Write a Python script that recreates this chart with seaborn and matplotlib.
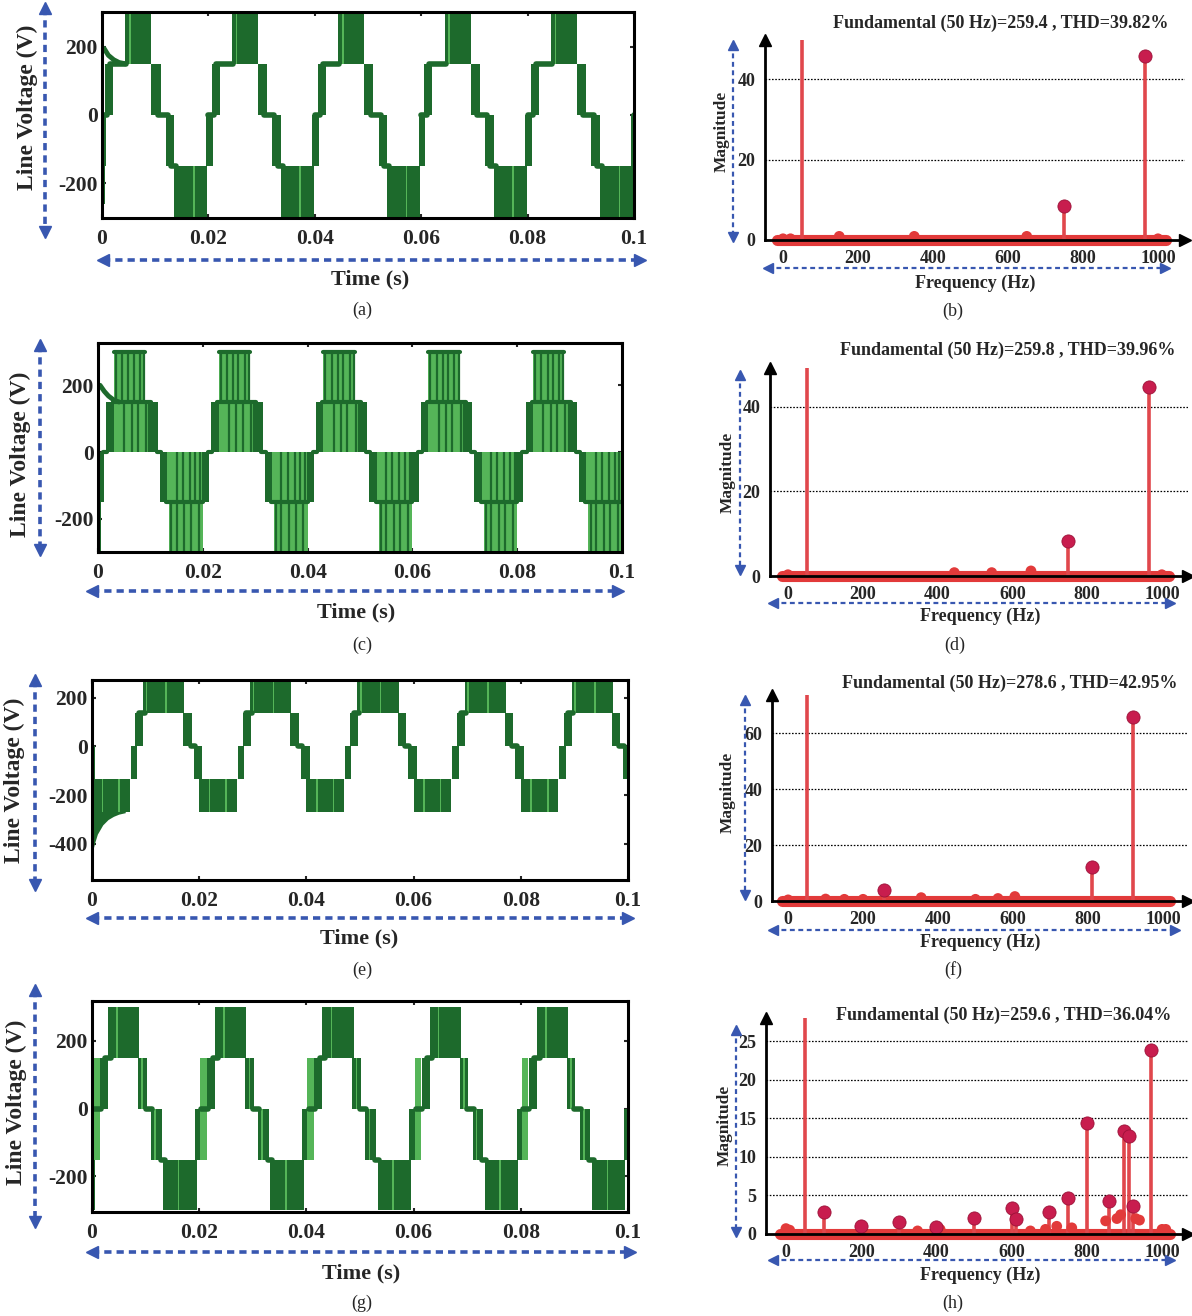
import numpy as np
import pandas as pd
import matplotlib
matplotlib.use("Agg")
import matplotlib.pyplot as plt
import seaborn as sns
from matplotlib.lines import Line2D

sns.set_style("white")
plt.rcParams["font.family"] = ["Liberation Serif", "DejaVu Serif"]
plt.rcParams["font.weight"] = "bold"

# ---------------- data ----------------
PERIOD = 0.02
TIME_TICKS = [0, 0.02, 0.04, 0.06, 0.08, 0.1]
TIME_TICK_LABELS = ["0", "0.02", "0.04", "0.06", "0.08", "0.1"]

# (a) one period of the line voltage: dark switching bands (t0, t1, low, high)
A_DARK_T0 = [0.0006, 0.0044, 0.0093, 0.0120, 0.0136, 0.0195]
A_DARK_T1 = [0.0021, 0.0093, 0.0110, 0.0136, 0.0198, 0.0208]
A_DARK_LO = [0, 150, 0, -150, -300, -150]
A_DARK_HI = [150, 300, 150, 0, -150, 0]
A_LIGHT_T0 = [0.0051, 0.0171]
A_LIGHT_T1 = [0.0054, 0.0174]
A_LIGHT_LO = [150, -300]
A_LIGHT_HI = [300, -150]
A_LEVEL_T0 = [0.0015, 0.0105, 0.0130, 0.0200]
A_LEVEL_T1 = [0.0046, 0.0124, 0.0140, 0.0210]
A_LEVEL_V = [150, 0, -150, 0]
A_START_T0, A_START_T1, A_START_LO, A_START_HI = [0.0], [0.0006], [-260], [0]
A_HUMP_T = [0.0004, 0.0012, 0.0022, 0.0032, 0.0044]
A_HUMP_V = [195, 175, 162, 154, 150]

# (c)
C_DARK_T0 = [0.0016, 0.0100, 0.0118, 0.0198]
C_DARK_T1 = [0.0030, 0.0114, 0.0132, 0.0212]
C_DARK_LO = [0, 0, -150, -150]
C_DARK_HI = [150, 150, 0, 0]
C_LIGHT_T0 = [0.0030, 0.0030, 0.0132, 0.0136]
C_LIGHT_T1 = [0.0100, 0.0090, 0.0198, 0.0200]
C_LIGHT_LO = [0, 150, -150, -300]
C_LIGHT_HI = [150, 300, 0, -150]
C_STRIPE_T = [0.0034, 0.0046, 0.0058, 0.0068, 0.0080, 0.0088,
              0.0050, 0.0064, 0.0076, 0.0092, 0.0098,
              0.0140, 0.0150, 0.0165, 0.0177, 0.0192,
              0.0150, 0.0162, 0.0175, 0.0186, 0.0195]
C_STRIPE_LO = [150] * 6 + [0] * 5 + [-300] * 5 + [-150] * 5
C_STRIPE_HI = [300] * 6 + [150] * 5 + [-150] * 5 + [0] * 5
C_LEVEL_T0 = [0.0028, 0.0030, 0.0112, 0.0130, 0.0210]
C_LEVEL_T1 = [0.0102, 0.0090, 0.0120, 0.0200, 0.0218]
C_LEVEL_V = [150, 300, 0, -150, 0]
C_START_T0, C_START_T1, C_START_LO, C_START_HI = [0.0], [0.0005], [-300], [0]
C_HUMP_T = [0.0004, 0.0012, 0.0020, 0.0030, 0.0040]
C_HUMP_V = [200, 182, 168, 156, 150]

# (e)
E_DARK_T0 = [0.0072, 0.0081, 0.0095, 0.0170, 0.0190, 0.0200]
E_DARK_T1 = [0.0084, 0.0096, 0.0172, 0.0186, 0.0206, 0.0270]
E_DARK_LO = [-135, 0, 135, 0, -135, -270]
E_DARK_HI = [0, 135, 270, 135, 0, -135]
E_LIGHT_T0 = [0.0100, 0.0137, 0.0218, 0.0249]
E_LIGHT_T1 = [0.0103, 0.0140, 0.0221, 0.0252]
E_LIGHT_LO = [135, 135, -270, -270]
E_LIGHT_HI = [270, 270, -135, -135]
E_LEVEL_T0 = [0.0184, 0.0088]
E_LEVEL_T1 = [0.0192, 0.0098]
E_LEVEL_V = [0, 135]
E_TR_T = [0.0, 0.0005, 0.0010, 0.0020, 0.0030, 0.0040, 0.0050, 0.0062]
E_TR_LO = [-440, -395, -360, -322, -300, -287, -278, -272]
E_TR_HI = -135
E_START_T0, E_START_T1, E_START_LO, E_START_HI = [0.0], [0.0006], [-135], [0]

# (g)
G_DARK_T0 = [0.0015, 0.0030, 0.0086, 0.0110, 0.0133, 0.0192]
G_DARK_T1 = [0.0030, 0.0088, 0.0102, 0.0130, 0.0195, 0.0204]
G_DARK_LO = [0, 150, 0, -150, -300, -150]
G_DARK_HI = [150, 300, 150, 0, -150, 0]
G_LIGHT_T0 = [0.0202, 0.0045, 0.0092, 0.0116, 0.0160]
G_LIGHT_T1 = [0.0214, 0.0048, 0.0095, 0.0119, 0.0163]
G_LIGHT_LO = [-150, 150, 0, -150, -300]
G_LIGHT_HI = [150, 300, 150, 0, -150]
G_LEVEL_T0 = [0.0025, 0.0100, 0.0128, 0.0204]
G_LEVEL_T1 = [0.0035, 0.0112, 0.0136, 0.0216]
G_LEVEL_V = [150, 0, -150, 0]
G_START_T0, G_START_T1, G_START_LO, G_START_HI = [0.0], [0.0005], [-300], [0]

# spectra
FREQ_TICKS = [0, 200, 400, 600, 800, 1000]
BASE_FREQ = [-15, 1020]
FUND_FREQ = 50

B_TITLE = "Fundamental (50 Hz)=259.4 , THD=39.82%"
B_FUND = 259.4
B_FREQ = [750, 965]
B_MAG = [8.4, 45.7]
B_SMALL_FREQ = [0, 20, 150, 350, 650, 1000]
B_SMALL_MAG = [0.3, 0.3, 0.9, 0.9, 0.9, 0.3]
B_YTICKS = [0, 20, 40]

D_TITLE = "Fundamental (50 Hz)=259.8 , THD=39.96%"
D_FUND = 259.8
D_FREQ = [750, 965]
D_MAG = [8.2, 44.8]
D_SMALL_FREQ = [0, 445, 545, 650, 1000]
D_SMALL_MAG = [0.3, 0.8, 0.8, 1.2, 0.3]
D_YTICKS = [0, 20, 40]

F_TITLE = "Fundamental (50 Hz)=278.6 , THD=42.95%"
F_FUND = 278.6
F_FREQ = [255, 810, 920]
F_MAG = [3.8, 12.0, 65.7]
F_SMALL_FREQ = [0, 100, 150, 200, 355, 500, 560, 605]
F_SMALL_MAG = [0.4, 0.7, 0.6, 0.6, 1.2, 0.6, 0.9, 1.6]
F_YTICKS = [0, 20, 40, 60]

H_TITLE = "Fundamental (50 Hz)=259.6 , THD=36.04%"
H_FUND = 259.6
H_FREQ = [100, 200, 300, 400, 500, 600, 612, 700, 750, 800, 860, 900, 912, 922, 970]
H_MAG = [2.8, 1.1, 1.5, 0.9, 2.1, 3.4, 1.9, 2.9, 4.7, 14.4, 4.3, 13.4, 12.7, 3.6, 23.9]
H_SMALL_FREQ = [0, 10, 350, 410, 650, 690, 720, 760, 850, 880, 890, 930, 940, 1000, 1010]
H_SMALL_MAG = [0.7, 0.5, 0.4, 0.6, 0.4, 0.6, 1.0, 0.8, 1.7, 2.0, 2.5, 2.0, 1.8, 0.6, 0.6]
H_YTICKS = [0, 5, 10, 15, 20, 25]

# ---------------- style ----------------
W, H = 1192, 1316
DARK = "#1d6a2c"
LIGHT = "#55b558"
BLUE = "#3857b0"
STEM = "#e0474c"
MARK = "#c81d4e"
BASE_RED = "#e23a3a"

fig = plt.figure(figsize=(W / 100, H / 100), dpi=100)
fig.patch.set_facecolor("white")


def rect(l, r, t, b):
    return [l / W, 1 - b / H, (r - l) / W, (b - t) / H]


def fxy(x, y):
    return x / W, 1 - y / H


def ftext(x, y, s, size, weight="bold", rot=0):
    fx, fy = fxy(x, y)
    fig.text(fx, fy, s, ha="center", va="center", fontsize=size,
             fontweight=weight, rotation=rot)


def blue_arrow(x0, y0, x1, y1, lw=2.6, dash=(2.0, 1.4), ms=9):
    (a, b), (c, d) = fxy(x0, y0), fxy(x1, y1)
    fig.add_artist(Line2D([a, c], [b, d], transform=fig.transFigure,
                          color=BLUE, lw=lw, linestyle=(0, dash)))
    if x0 == x1:
        m0, m1 = "^", "v"
    else:
        m0, m1 = "<", ">"
    fig.add_artist(Line2D([a], [b], transform=fig.transFigure, marker=m0,
                          ms=ms, color=BLUE, lw=0))
    fig.add_artist(Line2D([c], [d], transform=fig.transFigure, marker=m1,
                          ms=ms, color=BLUE, lw=0))


def fill_blocks(ax, t0s, t1s, los, his, color, offsets, z):
    for off in offsets:
        for a, b, lo, hi in zip(t0s, t1s, los, his):
            ax.fill_between([a + off, b + off], [lo, lo], [hi, hi],
                            color=color, lw=0, zorder=z)


def level_lines(ax, t0s, t1s, vs, offsets, lw=4.0):
    rows = []
    seg = 0
    for off in offsets:
        for a, b, v in zip(t0s, t1s, vs):
            rows.append((a + off, v, seg))
            rows.append((b + off, v, seg))
            seg += 1
    df = pd.DataFrame(rows, columns=["t", "v", "seg"])
    sns.lineplot(data=df, x="t", y="v", units="seg", estimator=None,
                 sort=False, color=DARK, lw=lw, ax=ax, legend=False, zorder=3)


def wave_axes(box, ylim, yticks, ylabels):
    ax = fig.add_axes(rect(*box))
    ax.set_xlim(0, 0.1)
    ax.set_ylim(*ylim)
    ax.set_xticks(TIME_TICKS)
    ax.set_xticklabels(TIME_TICK_LABELS)
    ax.set_yticks(yticks)
    ax.set_yticklabels(ylabels)
    ax.tick_params(axis="both", labelsize=15.5, direction="in", length=3,
                   width=1.5, top=True, right=True, left=True, bottom=True)
    ax.tick_params(axis="x", pad=8)
    ax.tick_params(axis="y", pad=3)
    for s in ax.spines.values():
        s.set_linewidth(2.2)
        s.set_color("black")
        s.set_zorder(6)
    return ax


OFFS = [k * PERIOD for k in range(-1, 6)]

# ---- (a)
ax = wave_axes((102, 634, 12, 218), (-302, 302), [-200, 0, 200], ["-200", "0", "200"])
fill_blocks(ax, A_DARK_T0, A_DARK_T1, A_DARK_LO, A_DARK_HI, DARK, OFFS, 2)
fill_blocks(ax, A_LIGHT_T0, A_LIGHT_T1, A_LIGHT_LO, A_LIGHT_HI, LIGHT, OFFS, 3)
fill_blocks(ax, A_START_T0, A_START_T1, A_START_LO, A_START_HI, DARK, [0], 2)
level_lines(ax, A_LEVEL_T0, A_LEVEL_T1, A_LEVEL_V, OFFS)
sns.lineplot(x=A_HUMP_T, y=A_HUMP_V, color=DARK, lw=3.5, ax=ax, zorder=3)
ax.set_xlabel(""); ax.set_ylabel("")

# ---- (c)
ax = wave_axes((98, 622, 343, 552), (-300, 327), [-200, 0, 200], ["-200", "0", "200"])
fill_blocks(ax, C_LIGHT_T0, C_LIGHT_T1, C_LIGHT_LO, C_LIGHT_HI, LIGHT, OFFS, 1)
fill_blocks(ax, C_DARK_T0, C_DARK_T1, C_DARK_LO, C_DARK_HI, DARK, OFFS, 2)
fill_blocks(ax, C_START_T0, C_START_T1, C_START_LO, C_START_HI, DARK, [0], 2)
for off in OFFS:
    ax.vlines(np.array(C_STRIPE_T) + off, C_STRIPE_LO, C_STRIPE_HI,
              color=DARK, lw=1.6, zorder=3)
level_lines(ax, C_LEVEL_T0, C_LEVEL_T1, C_LEVEL_V, OFFS, lw=3.0)
sns.lineplot(x=C_HUMP_T, y=C_HUMP_V, color=DARK, lw=3.5, ax=ax, zorder=3)
ax.set_xlabel(""); ax.set_ylabel("")

# ---- (e)
ax = wave_axes((92, 628, 680, 880), (-548, 272), [-400, -200, 0, 200],
               ["-400", "-200", "0", "200"])
fill_blocks(ax, E_DARK_T0, E_DARK_T1, E_DARK_LO, E_DARK_HI, DARK, OFFS, 2)
fill_blocks(ax, E_LIGHT_T0, E_LIGHT_T1, E_LIGHT_LO, E_LIGHT_HI, LIGHT, OFFS, 3)
ax.fill_between(E_TR_T, E_TR_LO, E_TR_HI, color=DARK, lw=0, zorder=2)
fill_blocks(ax, E_START_T0, E_START_T1, E_START_LO, E_START_HI, DARK, [0], 2)
level_lines(ax, E_LEVEL_T0, E_LEVEL_T1, E_LEVEL_V, OFFS)
ax.set_xlabel(""); ax.set_ylabel("")

# ---- (g)
ax = wave_axes((92, 628, 1001, 1212), (-305, 318), [-200, 0, 200], ["-200", "0", "200"])
fill_blocks(ax, G_DARK_T0, G_DARK_T1, G_DARK_LO, G_DARK_HI, DARK, OFFS, 2)
fill_blocks(ax, G_LIGHT_T0, G_LIGHT_T1, G_LIGHT_LO, G_LIGHT_HI, LIGHT, OFFS, 3)
fill_blocks(ax, G_START_T0, G_START_T1, G_START_LO, G_START_HI, DARK, [0], 2)
level_lines(ax, G_LEVEL_T0, G_LEVEL_T1, G_LEVEL_V, OFFS)
ax.set_xlabel(""); ax.set_ylabel("")


# ---------------- spectra ----------------
def spectrum(box, xlim, ytop, yticks, fund, freqs, mags, sfreq, smag):
    ax = fig.add_axes(rect(*box))
    ax.set_xlim(*xlim)
    ax.set_ylim(0, ytop)
    for y in yticks[1:]:
        ax.axhline(y, color="black", lw=0.9, ls=(0, (1.3, 1.3)), zorder=1)
    sns.lineplot(x=BASE_FREQ, y=[0, 0], color=BASE_RED, lw=8, ax=ax, zorder=2)
    ax.lines[-1].set_clip_on(False)
    ax.lines[-1].set_solid_capstyle("round")
    ax.vlines([FUND_FREQ] + list(freqs), 0, [fund] + list(mags),
              color=STEM, lw=2.6, zorder=3)
    sns.scatterplot(x=sfreq, y=smag, color=BASE_RED, s=60, edgecolor="none",
                    ax=ax, zorder=4, clip_on=False)
    sns.scatterplot(x=freqs, y=mags, color=MARK, s=90, edgecolor="#9c1238",
                    linewidth=0.6, ax=ax, zorder=5, clip_on=False)
    ax.set_xticks(FREQ_TICKS)
    ax.set_xticklabels([str(v) for v in FREQ_TICKS])
    ax.set_yticks(yticks)
    ax.set_yticklabels([str(v) for v in yticks])
    ax.tick_params(axis="both", length=0, labelsize=13)
    ax.tick_params(axis="x", pad=7)
    ax.tick_params(axis="y", pad=7)
    for side in ("top", "right"):
        ax.spines[side].set_visible(False)
    for side in ("left", "bottom"):
        ax.spines[side].set_linewidth(2.0)
        ax.spines[side].set_color("black")
        ax.spines[side].set_zorder(6)
    ax.plot([1], [0], marker=">", ms=8, color="black", transform=ax.transAxes,
            clip_on=False, zorder=7)
    ax.plot([0], [1], marker="^", ms=8, color="black", transform=ax.transAxes,
            clip_on=False, zorder=7)
    ax.set_xlabel("")
    ax.set_ylabel("")
    return ax


spectrum((765, 1185, 40, 240), (-48, 1072), 49.7, B_YTICKS, B_FUND, B_FREQ, B_MAG,
         B_SMALL_FREQ, B_SMALL_MAG)
spectrum((770, 1188, 368, 576), (-48, 1070), 49.2, D_YTICKS, D_FUND, D_FREQ, D_MAG,
         D_SMALL_FREQ, D_SMALL_MAG)
spectrum((772, 1188, 695, 901), (-43, 1067), 73.6, F_YTICKS, F_FUND, F_FREQ, F_MAG,
         F_SMALL_FREQ, F_SMALL_MAG)
spectrum((766, 1188, 1018, 1234), (-53, 1069), 28.0, H_YTICKS, H_FUND, H_FREQ, H_MAG,
         H_SMALL_FREQ, H_SMALL_MAG)

# ---------------- texts ----------------
for (x, y) in [(27, 107), (20, 454), (14, 780), (16, 1102)]:
    ftext(x, y, "Line Voltage (V)", 17, rot=90)
for (x, y) in [(370, 279), (356, 612), (359, 938), (361, 1273)]:
    ftext(x, y, "Time (s)", 16)
for (x, y, s) in [(362, 310, "(a)"), (362, 645, "(c)"), (362, 970, "(e)"), (362, 1303, "(g)"),
                  (953, 311, "(b)"), (955, 645, "(d)"), (953, 970, "(f)"), (953, 1303, "(h)")]:
    ftext(x, y, s, 13, weight="normal")
for (x, y) in [(722, 131), (728, 472), (728, 792), (725, 1125)]:
    ftext(x, y, "Magnitude", 12.5, rot=90)
for (x, y) in [(975, 283), (980, 616), (980, 942), (980, 1275)]:
    ftext(x, y, "Frequency (Hz)", 13)
for (x, y, s) in [(1001, 23, B_TITLE), (1008, 350, D_TITLE), (1010, 683, F_TITLE),
                  (1004, 1015, H_TITLE)]:
    ftext(x, y, s, 13)

# ---------------- blue dashed arrows ----------------
blue_arrow(45, 8, 45, 232)
blue_arrow(103, 260, 640, 260)
blue_arrow(40, 345, 40, 550)
blue_arrow(92, 591, 618, 591)
blue_arrow(35, 680, 35, 885)
blue_arrow(92, 918, 628, 918)
blue_arrow(35, 990, 35, 1222)
blue_arrow(92, 1252, 630, 1252)
for (x0, y0, x1, y1) in [(733, 45, 733, 237), (768, 268, 1165, 268),
                         (740, 375, 740, 570), (773, 603, 1170, 603),
                         (745, 700, 745, 895), (773, 930, 1175, 930),
                         (736, 1030, 736, 1232), (773, 1260, 1170, 1260)]:
    blue_arrow(x0, y0, x1, y1, lw=1.6, dash=(2.2, 1.6), ms=7)

fig.savefig("out.png", dpi=100, facecolor="white")
